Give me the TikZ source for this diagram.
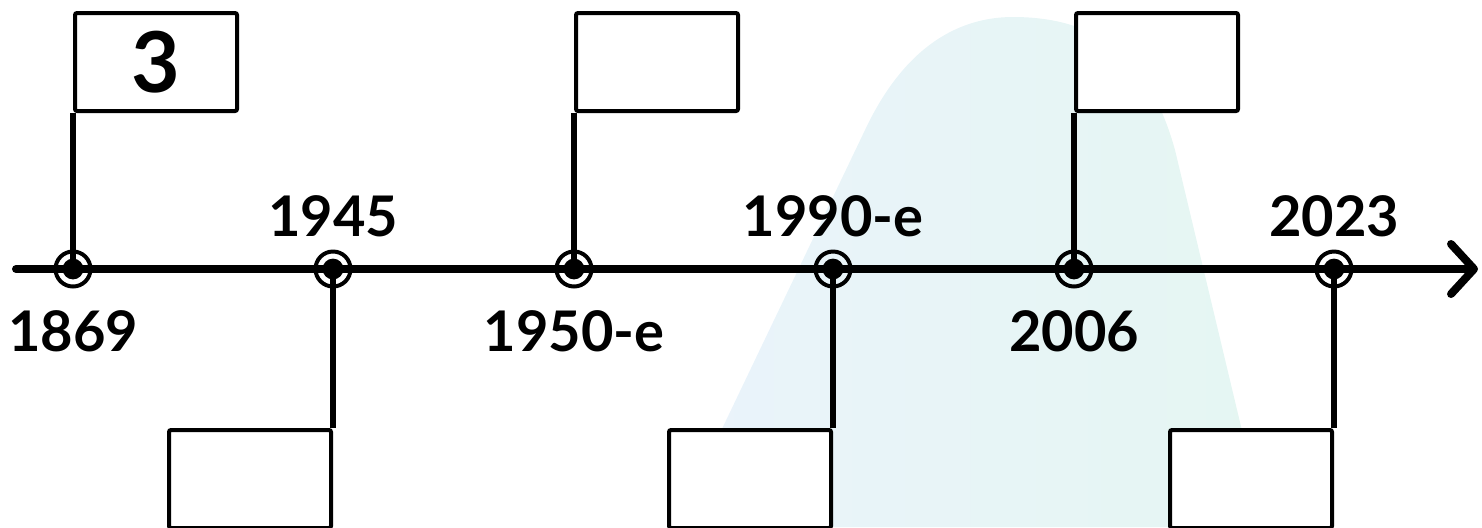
\documentclass[tikz,border=0pt]{standalone}
\usepackage{fontspec}
\setmainfont{Lato}
\usetikzlibrary{positioning}
\usetikzlibrary{arrows.meta}
\definecolor{hillleft}{HTML}{EAF3FB}
\definecolor{hillright}{HTML}{E5F6F2}
\tikzset{
    axis/.style={draw=black, line width=4pt, line cap=round,
        -{Straight Barb[length=11.5pt,width=25pt,round]}},
    pole/.style={draw=black, line width=3pt},
    event/.style={circle, draw=black, line width=2pt, minimum size=17.5pt, inner sep=0pt,
        path picture={\fill[black] (path picture bounding box.center) circle (5.2pt);}},
    flag/.style={draw=black, fill=white, line width=2pt, rounded corners=1pt,
        minimum width=81pt, minimum height=49pt, inner sep=0pt},
    year/.style={font=\bfseries\fontsize{28}{28}\selectfont, inner sep=0pt},
    yearup/.style={year, text depth=0pt},
    yeardown/.style={year, text height=20pt},
}

\begin{document}
\begin{tikzpicture}[x=0.5pt, y=-0.5pt]
	\useasboundingbox (0,0) rectangle (1482,527);
	% background hill
	\shade[left color=hillleft, right color=hillright]
		(675,527) -- (865,130) .. controls (905,45) and (960,17) .. (1013,17)
		.. controls (1100,17) and (1150,60) .. (1175,150) -- (1265,527) -- cycle;
	% axis
	\coordinate (start) at (16,269);
	\coordinate (end) at (1478,269);
	\draw[axis] (start) -- (end);
	% events
	\foreach \n/\x in {1/73, 2/333, 3/574, 4/833, 5/1074, 6/1334}
		\node[event] (p\n) at (\x,269) {};
	%
	\node[flag, above right=78pt and 0pt of p1.center,
		font=\bfseries\fontsize{42}{42}\selectfont] (f1) {3};
	\node[flag, below left=79.5pt and 0pt of p2.center] (f2) {};
	\node[flag, above right=78pt and 0pt of p3.center] (f3) {};
	\node[flag, below left=79.5pt and 0pt of p4.center] (f4) {};
	\node[flag, above right=78pt and 0pt of p5.center] (f5) {};
	\node[flag, below left=79.5pt and 0pt of p6.center] (f6) {};
	\foreach \n in {1,3,5}
		\draw[pole] (p\n.center) -- (f\n.south west);
	\foreach \n in {2,4,6}
		\draw[pole] (p\n.center) -- (f\n.north east);
	%
	\node[yeardown, below=11.5pt of p1] (y1) {1869};
	\node[yearup, above=6.5pt of p2] (y2) {1945};
	\node[yeardown, below=11.5pt of p3] (y3) {1950-e};
	\node[yearup, above=6.5pt of p4] (y4) {1990-e};
	\node[yeardown, below=11.5pt of p5] (y5) {2006};
	\node[yearup, above=6.5pt of p6] (y6) {2023};
\end{tikzpicture}
\end{document}
